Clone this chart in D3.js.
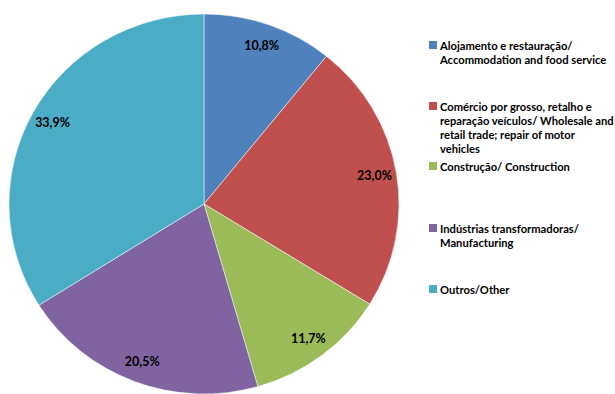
<!DOCTYPE html>
<html>
<head>
<meta charset="utf-8">
<script src="https://cdn.jsdelivr.net/npm/d3@7"></script>
<style>
  html, body { margin: 0; padding: 0; background: #fff; }
  svg { display: block; }
</style>
</head>
<body>
<svg id="chart" width="615" height="394"></svg>
<script>
const categories = [
  ["Alojamento e restauração/", "Accommodation and food service"],
  ["Comércio por grosso, retalho e", "reparação veículos/ Wholesale and", "retail trade; repair of motor", "vehicles"],
  ["Construção/ Construction"],
  ["Indústrias transformadoras/", "Manufacturing"],
  ["Outros/Other"]
];
const values = [10.8, 23.0, 11.7, 20.5, 33.9];
const valueLabels = ["10,8%", "23,0%", "11,7%", "20,5%", "33,9%"];
const colors = ["#4F81BD", "#C0504D", "#9BBB59", "#8064A2", "#4BACC6"];
const legendY = [45, 106, 166, 228, 289];

const svg = d3.select("#chart");
const cx = 204, cy = 204, rx = 195, ry = 190;
const font = "Lato, 'Open Sans', sans-serif";

const pie = d3.pie().sort(null).value(d => d)(values);
const arc = d3.arc().innerRadius(0).outerRadius(rx);
const labelArc = d3.arc().innerRadius(173).outerRadius(173);

const g = svg.append("g").attr("transform", `translate(${cx},${cy}) scale(1,${ry/rx})`);
g.selectAll("path").data(pie).join("path")
  .attr("d", arc)
  .attr("fill", (d, i) => colors[i])
  .attr("stroke", "#fff")
  .attr("stroke-width", 0.5);

const lg = svg.append("g").attr("transform", `translate(${cx},${cy})`);
lg.selectAll("text").data(pie).join("text")
  .attr("x", d => labelArc.centroid(d)[0])
  .attr("y", d => labelArc.centroid(d)[1] * ry / rx)
  .attr("text-anchor", "middle")
  .attr("dominant-baseline", "central")
  .attr("font-family", font)
  .attr("font-weight", "bold")
  .attr("font-size", 12.5)
  .attr("fill", "#000")
  .text((d, i) => valueLabels[i]);

const leg = svg.append("g");
categories.forEach((lines, i) => {
  const y0 = legendY[i];
  leg.append("rect").attr("x", 429).attr("y", y0 - 4).attr("width", 8).attr("height", 8).attr("fill", colors[i]);
  const t = leg.append("text")
    .attr("font-family", font).attr("font-weight", "bold").attr("font-size", 11.2).attr("fill", "#000");
  lines.forEach((ln, j) => {
    t.append("tspan").attr("x", 440).attr("y", y0 + j * 14.3).attr("dominant-baseline", "central").text(ln);
  });
});
</script>
</body>
</html>
